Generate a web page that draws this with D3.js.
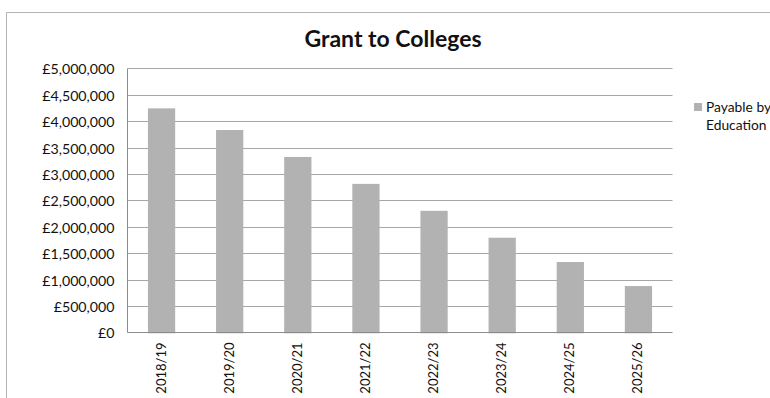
<!DOCTYPE html>
<html>
<head>
<meta charset="utf-8">
<script src="https://cdn.jsdelivr.net/npm/d3@7"></script>
<style>
  html, body { margin: 0; padding: 0; background: #fff; }
  svg { display: block; }
  text { font-family: Lato, "Open Sans", sans-serif; fill: #111; }
</style>
</head>
<body>
<svg id="chart" width="770" height="398"></svg>
<script>
// Grant to Colleges — amount payable by Education, per academic year
const years = ["2018/19", "2019/20", "2020/21", "2021/22", "2022/23", "2023/24", "2024/25", "2025/26"];
const payableByEducation = [4260000, 3850000, 3340000, 2830000, 2320000, 1810000, 1350000, 895000];
const yTicks = [0, 500000, 1000000, 1500000, 2000000, 2500000, 3000000, 3500000, 4000000, 4500000, 5000000];
const seriesName = ["Payable by", "Education"];
const chartTitle = "Grant to Colleges";

const svg = d3.select("#chart");

// chart frame (runs off the right and bottom edges)
svg.append("path")
  .attr("d", "M6.5,398 V12.5 H770")
  .attr("fill", "none")
  .attr("stroke", "#b4b4b4")
  .attr("stroke-width", 1);

const plot = { left: 127.5, right: 672.5, top: 69.3, bottom: 333.3 };

const x = d3.scaleBand()
  .domain(years)
  .range([plot.left, plot.right])
  .paddingInner(0.6)
  .paddingOuter(0.3);

const y = d3.scaleLinear()
  .domain([0, 5000000])
  .range([plot.bottom, plot.top]);

const crisp = v => Math.round(v) - 0.5;
const money = v => "£" + d3.format(",")(v);

// horizontal gridlines
svg.append("g")
  .selectAll("line")
  .data(yTicks.filter(t => t > 0))
  .join("line")
  .attr("x1", plot.left)
  .attr("x2", plot.right)
  .attr("y1", d => crisp(y(d)))
  .attr("y2", d => crisp(y(d)))
  .attr("stroke", "#a6a6a6")
  .attr("stroke-width", 1);

// bars
svg.append("g")
  .selectAll("rect")
  .data(years.map((yr, i) => ({ yr, v: payableByEducation[i] })))
  .join("rect")
  .attr("x", d => x(d.yr))
  .attr("width", x.bandwidth())
  .attr("y", d => y(d.v))
  .attr("height", d => y(0) - y(d.v))
  .attr("fill", "#b2b2b2");

// value axis
const yAxis = svg.append("g")
  .attr("transform", `translate(${crisp(plot.left)},0)`)
  .call(d3.axisLeft(y).tickValues(yTicks).tickFormat(money).tickSize(0).tickPadding(13));
yAxis.select(".domain").attr("stroke", "#8c8c8c").attr("d", `M0,${crisp(plot.top)}V${crisp(plot.bottom)}`);
yAxis.selectAll("text").style("font-family", "Lato").style("font-size", "14.2px").attr("fill", "#111");

// category axis
const xAxis = svg.append("g")
  .attr("transform", `translate(0,${crisp(plot.bottom)})`)
  .call(d3.axisBottom(x).tickSize(0).tickPadding(0));
xAxis.select(".domain").attr("stroke", "#8c8c8c").attr("d", `M${plot.left},0H${plot.right}`);
xAxis.selectAll("text")
  .style("font-family", "Lato")
  .style("font-size", "13px")
  .attr("fill", "#111")
  .attr("text-anchor", "end")
  .attr("y", 0)
  .attr("dy", null)
  .attr("transform", "translate(-1,10) rotate(-90)")
  .attr("dominant-baseline", "central");

// title
svg.append("text")
  .attr("x", 393)
  .attr("y", 47)
  .attr("text-anchor", "middle")
  .style("font-size", "23px")
  .style("font-weight", "bold")
  .attr("fill", "#000")
  .text(chartTitle);

// legend
const legend = svg.append("g");
legend.append("rect")
  .attr("x", 694).attr("y", 103)
  .attr("width", 8).attr("height", 8)
  .attr("fill", "#b2b2b2");
legend.selectAll("text.lg")
  .data(seriesName)
  .join("text")
  .attr("class", "lg")
  .attr("x", 706)
  .attr("y", (d, i) => 111.5 + i * 18.5)
  .style("font-size", "13.8px")
  .text(d => d);
</script>
</body>
</html>
